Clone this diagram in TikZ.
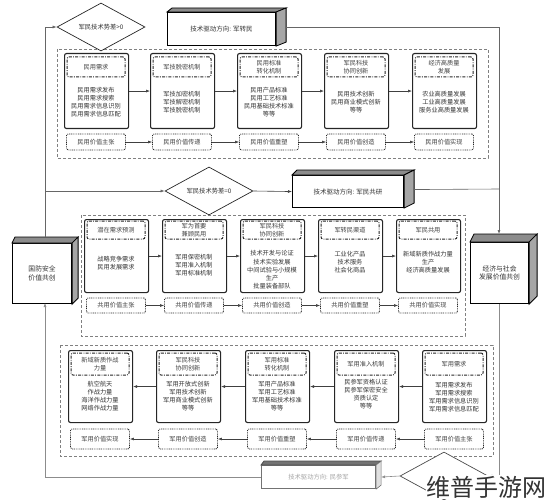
\documentclass[tikz,border=0pt]{standalone}
\usepackage{fontspec}
\setmainfont{Noto Sans CJK SC}
\usetikzlibrary{arrows.meta,shapes.geometric}
\tikzset{
  mainbox/.style={draw=black!85, line width=1.1pt, rounded corners=2pt, minimum width=64pt, inner sep=0pt, anchor=north west},
  hdr/.style={draw=black!85, line width=1pt, dash pattern=on 3pt off 1.3pt on 0.8pt off 1.3pt, rounded corners=2pt, minimum width=58pt, inner sep=0pt, align=center, font=\fontsize{6.2}{7.4}\selectfont, text=black!75},
  bodytxt/.style={align=center, inner sep=0pt, font=\fontsize{6.2}{8.2}\selectfont, text=black!80},
  valbox/.style={draw=black!85, line width=0.9pt, dash pattern=on 0.9pt off 0.9pt, rounded corners=1.5pt, minimum width=59pt, inner sep=0pt, font=\fontsize{6.2}{7.4}\selectfont, text=black!75},
  band/.style={draw=black!50, line width=0.6pt, dash pattern=on 3pt off 2pt},
  arr/.style={draw=black!75, line width=0.6pt, -{Latex[length=4pt,width=3pt]}},
  conn/.style={draw=black!70, line width=0.6pt},
  dia/.style={diamond, draw=black!85, line width=0.7pt, minimum width=88pt, minimum height=48pt, inner sep=0pt, aspect=1.8, fill=white, font=\fontsize{6.3}{7.5}\selectfont, text=black!80},
  frontbox/.style={draw=black, line width=1.1pt, fill=white, inner sep=0pt, anchor=north west, align=center, text=black!80},
  topface/.style={draw=black, line width=0.8pt, fill=black!45},
  sideface/.style={draw=black, line width=0.8pt, fill=black!35}
}
\newcommand{\cellbox}[6]{% name, xleft, body y, header, body, box height
  \node[mainbox, minimum height=#6pt] (#1) at (#2,\ytop) {};
  \node[hdr, minimum height=\hh pt] (#1h) at ({#2+32},\yhdr) {#4};
  \node[bodytxt] (#1b) at ({#2+32},#3) {#5};
}
\newcommand{\valbox}[3]{% name, xleft, text
  \node[valbox, minimum height=\vh pt] (#1) at ({#2+32},\yval) {#3};
}
\newcommand{\threed}[3]{% node, dx, dy (dy negative = up)
  \filldraw[topface] (#1.north west) -- ++(#2*0.5,#3) -- ([shift={(#2,#3)}]#1.north east) -- (#1.north east) -- cycle;
  \filldraw[sideface] (#1.north east) -- ++(#2,#3) -- ([shift={(#2,#3)}]#1.south east) -- (#1.south east) -- cycle;
}
\begin{document}
\begin{tikzpicture}[x=1pt,y=-1pt]
\useasboundingbox (0,0) rectangle (546,500);

% ---------- bands ----------
\draw[band] (57,49) rectangle (488,158);
\draw[band] (81,215) rectangle (465,336);
\draw[band] (60,345) rectangle (493,456);

% ---------- top band ----------
\def\ytop{53}\def\yhdr{67}\def\hh{20}\def\yval{142}\def\vh{16}
\cellbox{t1}{64}{102}{民用需求}{民用需求发布\\民用需求搜索\\民用需求信息识别\\民用需求信息匹配}{75}
\cellbox{t2}{150}{102}{军技脱密机制}{军技加密机制\\军技解密机制\\军技脱密机制}{75}
\cellbox{t3}{237}{102}{民用标准\\转化机制}{民用产品标准\\民用工艺标准\\民用基础技术标准\\等等}{75}
\cellbox{t4}{324}{102}{军民科技\\协同创新}{民用技术创新\\民用商业模式创新\\等等}{75}
\cellbox{t5}{412}{102}{经济高质量\\发展}{农业高质量发展\\工业高质量发展\\服务业高质量发展}{75}
\valbox{tv1}{64}{民用价值主张}
\valbox{tv2}{150}{民用价值传递}
\valbox{tv3}{237}{民用价值重塑}
\valbox{tv4}{324}{民用价值创造}
\valbox{tv5}{412}{民用价值实现}
\foreach \a/\b in {t1/t2,t2/t3,t3/t4,t4/t5,tv1/tv2,tv2/tv3,tv3/tv4,tv4/tv5}
  \draw[arr] (\a.east) -- (\b.west);

% ---------- middle band ----------
\def\ytop{219}\def\yhdr{230}\def\hh{18}\def\yval{305.5}\def\vh{15}
\cellbox{m1}{84}{263}{潜在需求预测}{战略竞争需求\\民用发展需求}{73}
\cellbox{m2}{162}{265}{军为首要\\兼顾民用}{军用保密机制\\军用准入机制\\军用标准机制}{73}
\cellbox{m3}{240}{270}{军民科技\\协同创新}{\fontsize{6.2}{7}\selectfont 技术开发与论证\\技术实验发展\\中间试验与小规模\\生产\\批量装备部队}{73}
\cellbox{m4}{318}{262}{军转民渠道}{工业化产品\\技术服务\\社会化商品}{73}
\cellbox{m5}{396}{262}{军民共用}{新域新质作战力量\\生产\\经济高质量发展}{73}
\valbox{mv1}{84}{共用价值主张}
\valbox{mv2}{162}{共用价值传递}
\valbox{mv3}{240}{共用价值创造}
\valbox{mv4}{318}{共用价值重塑}
\valbox{mv5}{396}{共用价值实现}
\foreach \a/\b in {m1/m2,m2/m3,m3/m4,m4/m5,mv1/mv2,mv2/mv3,mv3/mv4,mv4/mv5}
  \draw[arr] (\a.east) -- (\b.west);

% ---------- bottom band ----------
\def\ytop{350}\def\yhdr{364}\def\hh{22}\def\yval{439}\def\vh{20}
\cellbox{b1}{68}{396}{新域新质作战\\力量}{航空航天\\作战力量\\海洋作战力量\\网络作战力量}{72}
\cellbox{b2}{156}{396}{军民科技\\协同创新}{军用开放式创新\\军用技术创新\\军用商业模式创新\\等等}{72}
\cellbox{b3}{245}{396}{军用标准\\转化机制}{军用产品标准\\军用工艺标准\\军用基础技术标准\\等等}{72}
\cellbox{b4}{334}{394}{军用准入机制}{民参军资格认证\\民参军保密安全\\资质认定\\等等}{72}
\cellbox{b5}{422}{397}{军用需求}{军用需求发布\\军用需求搜索\\军用需求信息识别\\军用需求信息匹配}{72}
\valbox{bv1}{68}{军用价值实现}
\valbox{bv2}{156}{军用价值创造}
\valbox{bv3}{245}{军用价值重塑}
\valbox{bv4}{334}{军用价值传递}
\valbox{bv5}{422}{军用价值主张}
\foreach \a/\b in {b5/b4,b4/b3,b3/b2,b2/b1,bv5/bv4,bv4/bv3,bv3/bv2,bv2/bv1}
  \draw[arr] (\a.west) -- (\b.east);

% ---------- side 3D boxes ----------
\node[frontbox, minimum width=59pt, minimum height=60pt, font=\fontsize{6.8}{8.6}\selectfont] (lbox) at (12,243) {国防安全\\价值共创};
\threed{lbox}{6}{-6}
\node[frontbox, minimum width=58pt, minimum height=61pt, font=\fontsize{6.8}{8.6}\selectfont] (rbox) at (470,242) {经济与社会\\发展价值共创};
\threed{rbox}{8}{-8}

% ---------- diamonds and direction boxes ----------
\node[dia] (d1) at (101,27) {军民技术势差>0};
\node[frontbox, minimum width=108pt, minimum height=33pt, font=\fontsize{6.5}{8}\selectfont] (t3d) at (167,12) {技术驱动方向: 军转民};
\threed{t3d}{10}{-4}

\node[dia] (d2) at (209,191) {军民技术势差=0};
\node[frontbox, minimum width=111pt, minimum height=32pt, font=\fontsize{6.5}{8}\selectfont] (m3d) at (292,175) {技术驱动方向: 军民共研};
\threed{m3d}{10}{-5}

\node[dia, draw=black!70] (d3) at (444,476) {};
\node[frontbox, draw=black!55, minimum width=114pt, minimum height=23pt, font=\fontsize{6.3}{8}\selectfont, text=black!35] (b3d) at (261,465) {技术驱动方向: 民参军};
\filldraw[draw=black!70, line width=0.8pt, fill=black!55] (b3d.north west) -- ++(3,-4) -- ([shift={(5,-4)}]b3d.north east) -- (b3d.north east) -- cycle;
\filldraw[draw=black!55, line width=0.6pt, fill=black!12] (b3d.north east) -- ++(5,-4) -- ([shift={(5,-4)}]b3d.south east) -- (b3d.south east) -- cycle;

% ---------- loop connectors ----------
\coordinate (lt) at (45,237);
\coordinate (lj) at (45,191);
\coordinate (lb) at (45,303);
\coordinate (rt) at (499,234);
\coordinate (rj) at (499,189);
\draw[arr, draw=black!60] (lt) |- (d1.west);
\draw[arr, draw=black!60] (lj) -- (d2.west);
\draw[arr] (d2.east) -- (m3d.west);
\draw[arr, draw=black!60] ([shift={(10,-2)}]t3d.east) -| (rt);
\draw[conn, draw=black!60] ([shift={(10,-2)}]m3d.east) -- (rj);
\draw[arr, draw=black!45] (rbox.south) |- (d3.east);
\draw[arr, draw=black!45] (d3.west) -- ([xshift=5pt]b3d.east);
\draw[arr, draw=black!45] (b3d.west) -| (lb);

% ---------- watermark ----------
\node[fill=white, inner sep=0.5pt, font=\fontsize{24}{26}\selectfont, text=black!80] (wm) at (486,487) {维普手游网};
\end{tikzpicture}
\end{document}
